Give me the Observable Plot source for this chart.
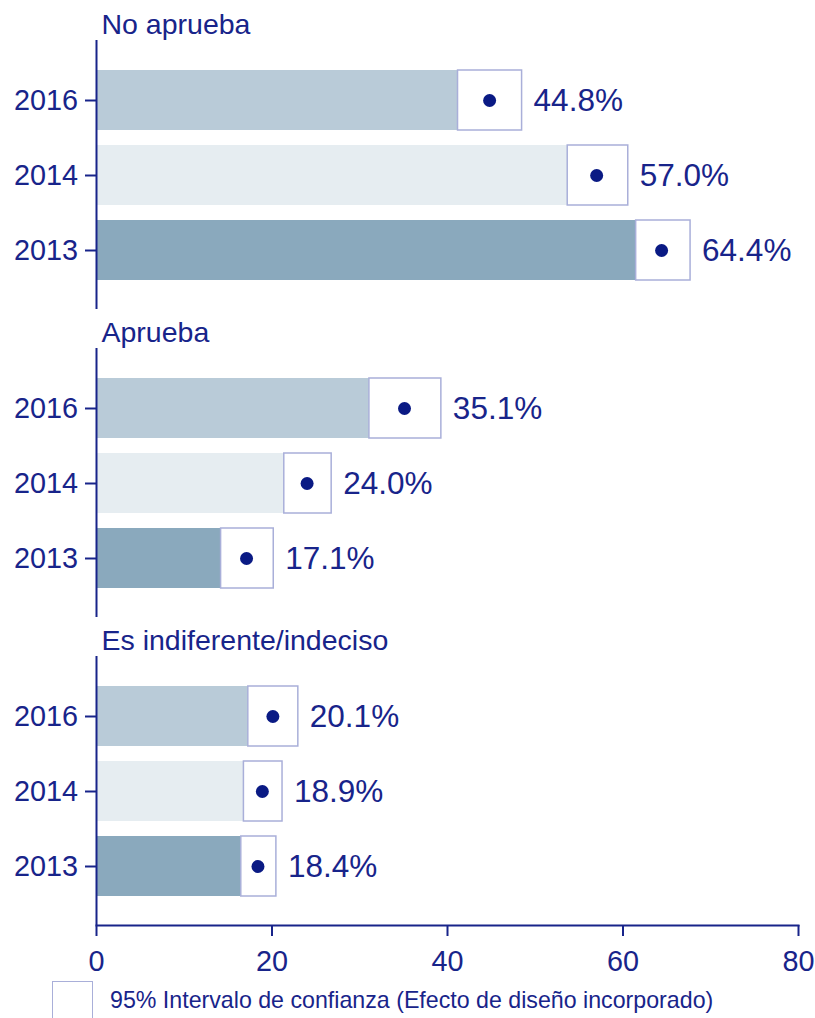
<!DOCTYPE html>
<html>
<head>
<meta charset="utf-8">
<script src="https://cdn.jsdelivr.net/npm/d3@7"></script>
<script src="https://cdn.jsdelivr.net/npm/@observablehq/plot@0.6"></script>
<style>
  html, body { margin: 0; padding: 0; background: #fff; overflow: hidden; }
  #chart svg { display: block; }
  #legend { position: relative; height: 40px; font-family: "Liberation Sans", Arial, sans-serif; color: #18248a; }
  #legend .box { position: absolute; left: 52px; top: 3px; width: 39px; height: 39px; border: 1.5px solid #a9afd9; background: #fff; }
  #legend .lbl { position: absolute; left: 110px; top: 8px; font-size: 23.2px; line-height: 28px; white-space: nowrap; }
</style>
</head>
<body>
<div id="chart"></div>
<div id="legend"><div class="box"></div><div class="lbl">95% Intervalo de confianza (Efecto de diseño incorporado)</div></div>
<script>
const groups = ["No aprueba", "Aprueba", "Es indiferente/indeciso"];
const years = ["2016", "2014", "2013"];
const estimates = [[44.8, 57.0, 64.4], [35.1, 24.0, 17.1], [20.1, 18.9, 18.4]];
const lowerCI = [[41.2, 53.7, 61.5], [31.1, 21.4, 14.2], [17.3, 16.8, 16.5]];
const upperCI = [[48.5, 60.6, 67.7], [39.3, 26.8, 20.2], [23.0, 21.2, 20.5]];
const xTicks = [0, 20, 40, 60, 80];
const yearColors = ["#b9cbd8", "#e6edf1", "#8aa9bd"];

const navy = "#18248a";
const rows = [];
groups.forEach((g, gi) => years.forEach((y, yi) => rows.push({
  group: g, year: y, est: estimates[gi][yi], lo: lowerCI[gi][yi], hi: upperCI[gi][yi]
})));

const chart = Plot.plot({
  width: 815,
  height: 978,
  marginLeft: 96,
  marginRight: 17,
  marginTop: 1,
  marginBottom: 53,
  style: { fontFamily: "'Liberation Sans', Arial, sans-serif", color: navy, background: "#fff" },
  x: { domain: [0, 80] },
  y: { domain: years, padding: 0.2, insetTop: 53, insetBottom: 13.5 },
  fy: { domain: groups, padding: 0, axis: null },
  color: { domain: years, range: yearColors },
  marks: [
    Plot.barX(rows, { fy: "group", y: "year", x1: 0, x2: "lo", fill: "year" }),
    Plot.barX(rows, { fy: "group", y: "year", x1: "lo", x2: "hi", fill: "#fff", stroke: "#a9afd9", strokeWidth: 1.5 }),
    Plot.dot(rows, { fy: "group", y: "year", x: "est", r: 6.5, fill: "#0a1a84" }),
    Plot.text(rows, { fy: "group", y: "year", x: "hi", text: d => d.est.toFixed(1) + "%", dx: 11.5, textAnchor: "start", fontSize: 31.5, fill: navy }),
    Plot.text(groups, { fy: d => d, text: d => d, frameAnchor: "top-left", lineAnchor: "middle", dx: 5, dy: 23, fontSize: 28.5, fill: navy }),
    Plot.ruleX([0], { insetTop: 39, stroke: navy, strokeWidth: 2 }),
    Plot.frame({ anchor: "bottom", facetAnchor: "bottom", stroke: navy, strokeWidth: 2 }),
    Plot.axisY({ tickSize: 11, tickPadding: 7.5, fontSize: 28.8, strokeWidth: 2, label: null }),
    Plot.axisX({ ticks: xTicks, tickSize: 11, tickPadding: 14, fontSize: 28.8, strokeWidth: 2, label: null, tickFormat: d => String(d) })
  ]
});
document.getElementById("chart").appendChild(chart);
</script>
</body>
</html>
